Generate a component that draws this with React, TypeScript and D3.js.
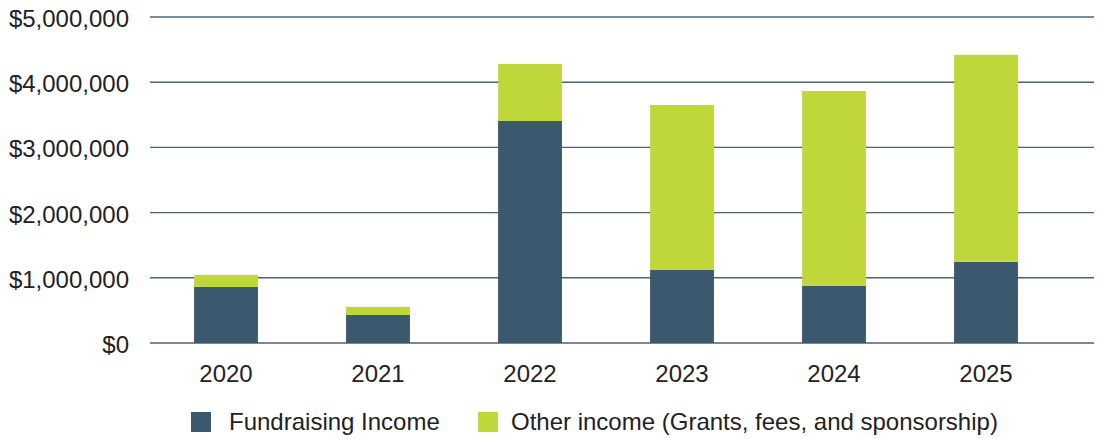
import React, { useEffect, useRef } from "react";
import * as d3 from "d3";

const years = ["2020", "2021", "2022", "2023", "2024", "2025"];
const fundraising = [860000, 430000, 3405000, 1120000, 875000, 1245000];
const otherIncome = [185000, 125000, 875000, 2530000, 2990000, 3175000];
const yTicks = [0, 1000000, 2000000, 3000000, 4000000, 5000000];
const seriesNames = [
  "Fundraising Income",
  "Other income (Grants, fees, and sponsorship)",
];
const colors = ["#3a596e", "#c0d73b"];

const App: React.FC = () => {
  const svgRef = useRef<SVGSVGElement | null>(null);

  useEffect(() => {
    const width = 1097;
    const height = 439;
    const margin = { top: 17, left: 150, right: 3, bottom: 96 };

    const svg = d3
      .select(svgRef.current)
      .attr("width", width)
      .attr("height", height)
      .style("font-family", "'Liberation Sans', Arial, sans-serif");
    svg.selectAll("*").remove();

    const x = d3
      .scaleBand<string>()
      .domain(years)
      .range([150, 1062])
      .paddingInner(0.58)
      .paddingOuter(0.29);

    const y = d3
      .scaleLinear()
      .domain([0, 5000000])
      .range([height - margin.bottom, margin.top]);

    const fmt = (v: number) => "$" + d3.format(",")(v);

    // gridlines
    svg
      .append("g")
      .selectAll("line")
      .data(yTicks)
      .join("line")
      .attr("x1", margin.left)
      .attr("x2", width - margin.right)
      .attr("y1", (d) => y(d))
      .attr("y2", (d) => y(d))
      .attr("stroke", "#4d6371")
      .attr("stroke-width", 1.4);

    // y labels
    svg
      .append("g")
      .selectAll("text")
      .data(yTicks)
      .join("text")
      .attr("x", 129)
      .attr("y", (d) => y(d))
      .attr("dy", "0.42em")
      .attr("text-anchor", "end")
      .attr("font-size", 24)
      .attr("fill", "#222")
      .text((d) => fmt(d));

    const rows = years.map((yr, i) => ({
      year: yr,
      fund: fundraising[i],
      other: otherIncome[i],
    }));
    const stack = d3.stack<any>().keys(["fund", "other"])(rows);

    svg
      .append("g")
      .selectAll("g")
      .data(stack)
      .join("g")
      .attr("fill", (_, i) => colors[i])
      .selectAll("rect")
      .data((d) => d)
      .join("rect")
      .attr("x", (d: any) => x(d.data.year)!)
      .attr("width", x.bandwidth())
      .attr("y", (d) => y(d[1]))
      .attr("height", (d) => y(d[0]) - y(d[1]));

    // x labels
    svg
      .append("g")
      .selectAll("text")
      .data(years)
      .join("text")
      .attr("x", (d) => x(d)! + x.bandwidth() / 2)
      .attr("y", 382)
      .attr("text-anchor", "middle")
      .attr("font-size", 24)
      .attr("fill", "#222")
      .text((d) => d);

    // legend
    const legendX = [191, 478];
    const legend = svg
      .append("g")
      .selectAll("g")
      .data(seriesNames)
      .join("g")
      .attr("transform", (_, i) => `translate(${legendX[i]},412)`);
    legend
      .append("rect")
      .attr("width", 20)
      .attr("height", 20)
      .attr("fill", (_, i) => colors[i]);
    legend
      .append("text")
      .attr("x", (_, i) => (i === 0 ? 38 : 33))
      .attr("y", 18)
      .attr("font-size", 24)
      .attr("fill", "#222")
      .text((d) => d);
  }, []);

  return (
    <div style={{ position: "absolute", left: 0, top: 0 }}>
      <svg ref={svgRef} />
    </div>
  );
};

export default App;
